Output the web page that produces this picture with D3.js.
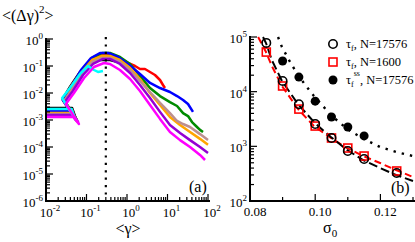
<!DOCTYPE html>
<html>
<head>
<meta charset="utf-8">
<script src="https://cdn.jsdelivr.net/npm/d3@7"></script>
<style>
  body { margin: 0; background: #fff; }
  svg { display: block; }
  text { font-family: "Liberation Serif", "DejaVu Serif", serif; fill: #000; }
</style>
</head>
<body>
<svg id="chart" width="415" height="242"></svg>
<script>
// ---- panel (a): <(dgamma)^2> vs <gamma>, one curve per run ([gamma, value])
const curveBlack = [[0.01,0.0028],[0.02,0.0028],[0.044,0.0028],[0.055,0.0011],[0.026,0.006],[0.039,0.0167],[0.069,0.06],[0.122,0.129],[0.215,0.167],[0.38,0.167],[0.6,0.141],[0.89,0.1]];
const curveRed = [[0.01,0.00235],[0.025,0.0024],[0.044,0.0024],[0.055,0.001],[0.026,0.0055],[0.039,0.0153],[0.069,0.055],[0.122,0.167],[0.215,0.255],[0.34,0.278],[0.6,0.215],[1.06,0.129],[1.58,0.1],[2.09,0.0774],[2.78,0.0774],[3.7,0.06],[4.91,0.0464],[6.53,0.0303],[7.74,0.0198],[8.67,0.0153]];
const curveGreen = [[0.01,0.002],[0.03,0.002],[0.044,0.002],[0.058,0.001],[0.028,0.0055],[0.044,0.0153],[0.077,0.0711],[0.137,0.198],[0.242,0.303],[0.38,0.303],[0.67,0.215],[1.19,0.119],[2.09,0.0426],[3.7,0.0153],[6.53,0.0077],[11.5,0.0046],[17.2,0.0033],[24.2,0.0018],[32.1,0.0014],[40.3,0.00084],[53.5,0.00055],[63.5,0.00043],[75.3,0.00036]];
const curveBlue = [[0.01,0.00215],[0.03,0.00215],[0.044,0.00215],[0.055,0.001],[0.026,0.0055],[0.041,0.0153],[0.073,0.0711],[0.129,0.198],[0.215,0.303],[0.34,0.303],[0.6,0.215],[1.06,0.119],[2.09,0.0506],[3.7,0.0235],[6.53,0.0153],[11.5,0.0109],[17.2,0.0077],[24.2,0.0055],[32.1,0.0039],[42.6,0.002]];
const curveOrange = [[0.01,0.0018],[0.03,0.0018],[0.045,0.0018],[0.058,0.00092],[0.028,0.0051],[0.044,0.0141],[0.077,0.06],[0.137,0.167],[0.242,0.235],[0.38,0.235],[0.67,0.167],[1.19,0.084],[2.09,0.033],[3.7,0.01],[6.53,0.0036],[11.5,0.0013],[20.4,0.00065],[36,0.00036],[63.5,0.0002],[100,0.00012]];
const curveTan = [[0.01,0.00167],[0.03,0.00167],[0.045,0.00167],[0.058,0.00092],[0.028,0.0051],[0.044,0.0129],[0.077,0.055],[0.137,0.141],[0.242,0.198],[0.38,0.198],[0.67,0.141],[1.19,0.0711],[2.09,0.0278],[3.7,0.0109],[6.53,0.0043],[11.5,0.0018],[17.2,0.00092],[24.2,0.00071],[36,0.00055],[63.5,0.0003],[100,0.00018]];
const curvePurple = [[0.01,0.00153],[0.03,0.00153],[0.046,0.00153],[0.062,0.00084],[0.029,0.0046],[0.046,0.0119],[0.082,0.0464],[0.145,0.119],[0.255,0.182],[0.38,0.182],[0.67,0.119],[1.19,0.055],[2.09,0.0198],[3.7,0.0065],[6.53,0.002],[11.5,0.00065],[20.4,0.00033],[36,0.00018],[63.5,0.0001],[100,0.00006]];
const curveCyan = [[0.01,0.00255],[0.03,0.00255],[0.043,0.00255],[0.052,0.0011],[0.025,0.0065],[0.039,0.0153],[0.069,0.0506],[0.109,0.1],[0.153,0.0711],[0.192,0.06],[0.255,0.0653]];
const curveMagenta = [[0.01,0.0013],[0.03,0.0013],[0.047,0.0013],[0.065,0.00071],[0.031,0.0039],[0.049,0.01],[0.087,0.0359],[0.153,0.0918],[0.27,0.129],[0.38,0.119],[0.67,0.0711],[1.19,0.033],[2.09,0.0119],[3.7,0.0036],[6.53,0.0011],[11.5,0.00036],[20.4,0.00018],[36,0.0001],[63.5,0.000051],[84.4,0.000033]];
const gammaStar = 0.30;
const gammaTickExp = ['-2', '-1', '0', '1', '2'];
const msdTickExp = ['0', '-1', '-2', '-3', '-4', '-5', '-6'];

// ---- panel (b): relaxation times vs sigma0
const sigma = [0.085, 0.09, 0.095, 0.10, 0.105, 0.11, 0.115, 0.125];
const tauF17576 = [78000, 15700, 5900, 2560, 1420, 822, 587, 325];
const tauF1600 = [53000, 12700, 4800, 2350, 1420, 931, 665, 354];
const sigmaSS = [0.09, 0.095, 0.10, 0.105, 0.11, 0.115];
const tauSS17576 = [36400, 18500, 6700, 3440, 2260, 1550];
// fitted curves
const fitSigma17576 = [0.084, 0.0849, 0.0867, 0.0898, 0.0947, 0.0999, 0.1048, 0.1098, 0.1147, 0.1199, 0.1248, 0.13];
const fit17576 = [100000, 77600, 37900, 15700, 5940, 2670, 1480, 857, 562, 401, 299, 232];
const fitSigma1600 = [0.0825, 0.0849, 0.0867, 0.0898, 0.0947, 0.0996, 0.1048, 0.1098, 0.1147, 0.1199, 0.1248, 0.13];
const fit1600 = [100000, 53100, 29400, 12700, 4820, 2350, 1420, 931, 665, 495, 369, 275];
const fitSigmaSS = [0.0886, 0.0898, 0.0923, 0.0947, 0.0972, 0.0996, 0.1021, 0.1048, 0.1098, 0.115, 0.1199, 0.1248, 0.13];
const fitSS = [100000, 65600, 34900, 20200, 12700, 8340, 5710, 3740, 2070, 1360, 972, 788, 665];
const tauTickExp = ['2', '3', '4', '5'];
const sigmaTickLabels = ['0.08', '0.10', '0.12'];
const legendLabels = [
  { sub: 'f', sup: '', rest: ', N=17576' },
  { sub: 'f', sup: '', rest: ', N=1600' },
  { sub: 'f', sup: 'ss', rest: ', N=17576' }
];

const svg = d3.select('#chart');

// writes "10" with a raised exponent into a text element
function powerLabel(t, exp) {
  t.append('tspan').text('10');
  t.append('tspan').attr('dy', -6).attr('font-size', 9).text(exp);
}

function isDecade(v) {
  const l = Math.log10(v);
  return Math.abs(l - Math.round(l)) < 1e-6;
}

// ================= panel (a)
const xA = d3.scaleLog().domain([1e-2, 1e2]).range([46, 208]);
const yA = d3.scaleLog().domain([1e-6, 1]).range([201, 39]);

const curves = [curveBlack, curveRed, curveGreen, curveBlue, curveOrange, curveTan, curvePurple, curveCyan, curveMagenta];
const curveColors = ['#000000', '#ff0000', '#008b00', '#0000ff', '#ffa500', '#bc8f8f', '#9400d3', '#00ffff', '#ff00ff'];

const lineA = d3.line().x(d => xA(d[0])).y(d => yA(d[1]));

svg.append('g').selectAll('path')
  .data(curves)
  .enter()
  .append('path')
  .attr('d', lineA)
  .attr('fill', 'none')
  .attr('stroke', (d, i) => curveColors[i])
  .attr('stroke-width', 2.5)
  .attr('stroke-linejoin', 'round');

// dotted marker line at gamma*
svg.append('line')
  .attr('x1', xA(gammaStar)).attr('x2', xA(gammaStar))
  .attr('y1', 37).attr('y2', 199)
  .attr('stroke', '#000').attr('stroke-width', 2.2)
  .attr('stroke-dasharray', '2.2,5.2');

// axes (a)
const axA = svg.append('g');
axA.append('line').attr('x1', 46).attr('x2', 46).attr('y1', 38).attr('y2', 201).attr('stroke', '#000').attr('stroke-width', 2);
axA.append('line').attr('x1', 45).attr('x2', 210).attr('y1', 201).attr('y2', 201).attr('stroke', '#000').attr('stroke-width', 2);

axA.selectAll('.xt').data(xA.ticks()).enter().append('line')
  .attr('x1', d => xA(d)).attr('x2', d => xA(d))
  .attr('y1', 201).attr('y2', d => 201 - (isDecade(d) ? 7 : 4))
  .attr('stroke', '#000').attr('stroke-width', 1.2);
axA.selectAll('.yt').data(yA.ticks()).enter().append('line')
  .attr('y1', d => yA(d)).attr('y2', d => yA(d))
  .attr('x1', 46).attr('x2', d => 46 + (isDecade(d) ? 7 : 4))
  .attr('stroke', '#000').attr('stroke-width', 1.2);

gammaTickExp.forEach(e => {
  const t = axA.append('text')
    .attr('x', xA(Math.pow(10, +e)) + 4).attr('y', 217)
    .attr('text-anchor', 'middle').attr('font-size', 13);
  powerLabel(t, e);
});
msdTickExp.forEach(e => {
  const t = axA.append('text')
    .attr('x', 43).attr('y', yA(Math.pow(10, +e)) + 6)
    .attr('text-anchor', 'end').attr('font-size', 13);
  powerLabel(t, e);
});

const yTitle = svg.append('text').attr('x', 2).attr('y', 21).attr('font-size', 16);
yTitle.append('tspan').text('<(Δγ)');
yTitle.append('tspan').attr('dy', -8).attr('font-size', 11).text('2');
yTitle.append('tspan').attr('dy', 8).text('>');

svg.append('text').attr('x', 128).attr('y', 234).attr('text-anchor', 'middle')
  .attr('font-size', 16).text('<γ>');
svg.append('text').attr('x', 189).attr('y', 192).attr('font-size', 16).text('(a)');

// ================= panel (b)
const xB = d3.scaleLinear().domain([0.08, 0.13]).range([250, 413]);
const yB = d3.scaleLog().domain([100, 1e5]).range([201, 37]);

svg.append('clipPath').attr('id', 'clipB')
  .append('rect').attr('x', 250).attr('y', 36).attr('width', 170).attr('height', 166);

const gB = svg.append('g').attr('clip-path', 'url(#clipB)');
const lineB = d3.line().x(d => xB(d[0])).y(d => yB(d[1]));

gB.append('path').attr('d', lineB(d3.zip(fitSigma1600, fit1600)))
  .attr('fill', 'none').attr('stroke', '#ff0000').attr('stroke-width', 2)
  .attr('stroke-dasharray', '7,4');
gB.append('path').attr('d', lineB(d3.zip(fitSigma17576, fit17576)))
  .attr('fill', 'none').attr('stroke', '#000').attr('stroke-width', 2)
  .attr('stroke-dasharray', '9,4');
gB.append('path').attr('d', lineB(d3.zip(fitSigmaSS, fitSS)))
  .attr('fill', 'none').attr('stroke', '#000').attr('stroke-width', 2.4)
  .attr('stroke-dasharray', '2.4,6');

svg.append('g').selectAll('circle')
  .data(d3.zip(sigmaSS, tauSS17576)).enter().append('circle')
  .attr('cx', d => xB(d[0])).attr('cy', d => yB(d[1])).attr('r', 4.5)
  .attr('fill', '#000');
svg.append('g').selectAll('rect')
  .data(d3.zip(sigma, tauF1600)).enter().append('rect')
  .attr('x', d => xB(d[0]) - 4).attr('y', d => yB(d[1]) - 4)
  .attr('width', 8).attr('height', 8)
  .attr('fill', 'none').attr('stroke', '#ff0000').attr('stroke-width', 1.6);
svg.append('g').selectAll('circle')
  .data(d3.zip(sigma, tauF17576)).enter().append('circle')
  .attr('cx', d => xB(d[0])).attr('cy', d => yB(d[1])).attr('r', 4.2)
  .attr('fill', 'none').attr('stroke', '#000').attr('stroke-width', 1.6);

// axes (b)
const axB = svg.append('g');
axB.append('line').attr('x1', 250).attr('x2', 250).attr('y1', 36).attr('y2', 201).attr('stroke', '#000').attr('stroke-width', 2);
axB.append('line').attr('x1', 249).attr('x2', 415).attr('y1', 201).attr('y2', 201).attr('stroke', '#000').attr('stroke-width', 2);

axB.selectAll('.yt').data(yB.ticks()).enter().append('line')
  .attr('y1', d => yB(d)).attr('y2', d => yB(d))
  .attr('x1', 250).attr('x2', d => 250 + (isDecade(d) ? 7 : 4))
  .attr('stroke', '#000').attr('stroke-width', 1.2);
axB.selectAll('.xt').data(xB.ticks(5)).enter().append('line')
  .attr('x1', d => xB(d)).attr('x2', d => xB(d))
  .attr('y1', 201).attr('y2', (d, i) => 201 - (i % 2 === 0 ? 7 : 4))
  .attr('stroke', '#000').attr('stroke-width', 1.2);

sigmaTickLabels.forEach(s => {
  axB.append('text').attr('x', xB(+s) + 5).attr('y', 216)
    .attr('text-anchor', 'middle').attr('font-size', 13).text(s);
});
tauTickExp.forEach(e => {
  const t = axB.append('text')
    .attr('x', 247).attr('y', yB(Math.pow(10, +e)) + 6)
    .attr('text-anchor', 'end').attr('font-size', 13);
  powerLabel(t, e);
});

const xTitleB = svg.append('text').attr('x', 323).attr('y', 233).attr('font-size', 16);
xTitleB.append('tspan').text('σ');
xTitleB.append('tspan').attr('dy', 4).attr('font-size', 11).text('0');
svg.append('text').attr('x', 391).attr('y', 193).attr('font-size', 16).text('(b)');

// legend (b)
const legY = [44, 62, 80];
const leg = svg.append('g');
leg.append('circle').attr('cx', 333).attr('cy', legY[0]).attr('r', 4.2)
  .attr('fill', 'none').attr('stroke', '#000').attr('stroke-width', 1.6);
leg.append('rect').attr('x', 329).attr('y', legY[1] - 4).attr('width', 8).attr('height', 8)
  .attr('fill', 'none').attr('stroke', '#ff0000').attr('stroke-width', 1.6);
leg.append('circle').attr('cx', 333).attr('cy', legY[2]).attr('r', 4.5).attr('fill', '#000');

legendLabels.forEach((l, i) => {
  const t = leg.append('text').attr('x', 346).attr('y', legY[i] + 4).attr('font-size', 12.5);
  t.append('tspan').text('τ');
  t.append('tspan').attr('dy', 3).attr('font-size', 8).text(l.sub);
  if (l.sup) {
    t.append('tspan').attr('dy', -11).attr('font-size', 8).text(l.sup);
    t.append('tspan').attr('dy', 8).text(l.rest);
  } else {
    t.append('tspan').attr('dy', -3).text(l.rest);
  }
});
</script>
</body>
</html>
